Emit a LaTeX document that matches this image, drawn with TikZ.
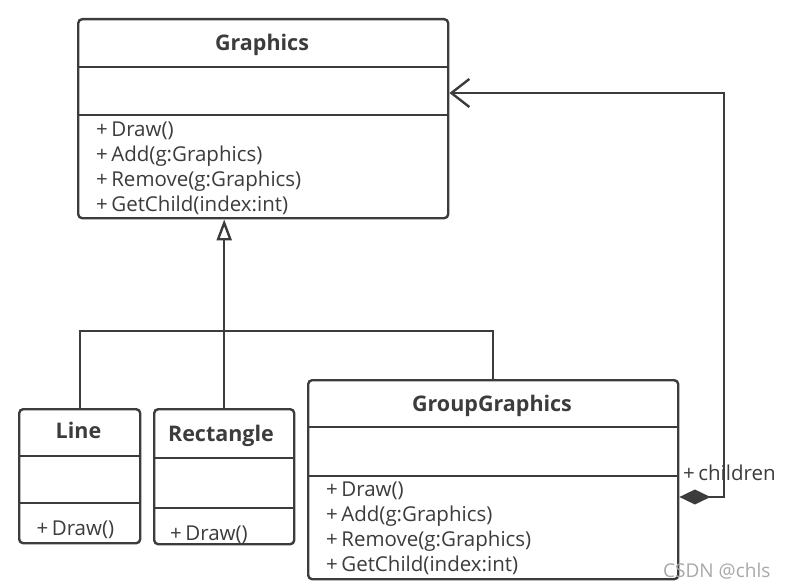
\documentclass[tikz,border=0pt]{standalone}
\usepackage{fontspec}
\setmainfont{Open Sans}
\usetikzlibrary{arrows.meta, positioning}
\definecolor{umlgray}{HTML}{3C3C3C}
\definecolor{marktext}{HTML}{A8A8A8}

\tikzset{
  classbox/.style={draw=umlgray, line width=2.4pt, rounded corners=4pt, anchor=north west, inner sep=0pt},
  classname/.style={font=\fontsize{21.5}{25}\selectfont\bfseries, text=umlgray, anchor=base, inner sep=0pt},
  member/.style={font=\fontsize{20.5}{24}\selectfont, text=umlgray, anchor=base west, inner sep=0pt},
  sep/.style={draw=umlgray, line width=2.4pt},
  link/.style={draw=umlgray, line width=2.4pt},
}

\begin{document}
\begin{tikzpicture}[x=1pt, y=-1pt]
  \fill[white] (0,0) rectangle (786,588);
  \useasboundingbox (0,0) rectangle (786,588);
  % class boxes
  \node[classbox, minimum width=370, minimum height=199] (graphics) at (77,18) {};
  \node[classbox, minimum width=121, minimum height=134] (line) at (18,408) {};
  \node[classbox, minimum width=140, minimum height=135] (rect) at (153,408) {};
  \node[classbox, minimum width=370, minimum height=199] (group) at (307,379) {};
  % compartments
  \foreach \n/\a/\b in {graphics/67/115, line/456/503, rect/458/508, group/427/476}
    { \draw[sep] (\n.west |- 0,\a) -- (\n.east |- 0,\a);
      \draw[sep] (\n.west |- 0,\b) -- (\n.east |- 0,\b); }
  % names
  \node[classname] (graphics-name) at (262,51) {Graphics};
  \node[classname] (line-name) at (78.5,438) {Line};
  \node[classname] (rect-name) at (221,441) {Rectangle};
  \node[classname] (group-name) at (492,411) {GroupGraphics};
  % operations
  \foreach \m [count=\i] in {Draw(), Add(g:Graphics), Remove(g:Graphics), GetChild(index:int)}
    { \node[member] (graphics-op\i) at (96,111.5+25*\i) {+\,\m};
      \node[member] (group-op\i) at (326,471+25*\i) {+\,\m}; }
  \node[member] (line-op) at (36.5,535) {+\,Draw()};
  \node[member] (rect-op) at (170,540) {+\,Draw()};
  % relations
  \coordinate (bus) at (0,331);
  \coordinate (ret) at (724,0);
  \coordinate (own) at (0,497);
  \coordinate (back) at (0,93);
  \draw[link, -{Triangle[open, length=21pt, width=15pt]}] (rect.north) -- (rect.north |- graphics.south);
  \draw[link] (line.north) -- (line.north |- bus) -| (group.north);
  \draw[link, {Diamond[length=31pt, width=15pt]}-{Straight Barb[length=18pt, width=28pt]}]
    (group.east |- own) -| (ret |- back) -- (graphics.east |- back);
  \node[member] (children) at (683,480.5) {+\,children};
  \node[member, font=\fontsize{19}{22}\selectfont, text=marktext] (mark) at (663,577) {CSDN @chls};
\end{tikzpicture}
\end{document}
